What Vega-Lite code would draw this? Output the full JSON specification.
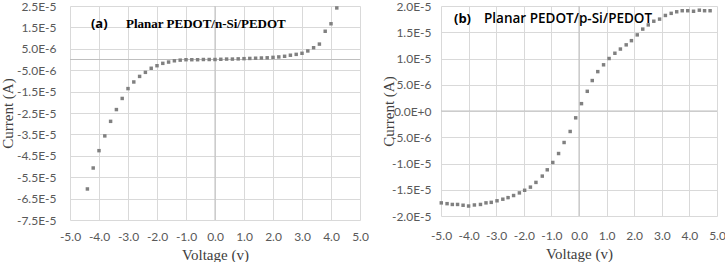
{
  "$schema": "https://vega.github.io/schema/vega-lite/v6.json",
  "padding": {"left": 0, "top": 0, "right": 0, "bottom": 0},
  "background": "white",
  "config": {
    "view": {"stroke": null},
    "axis": {
      "grid": true, "gridColor": "#d9d9d9", "gridWidth": 1, "domain": false, "ticks": false,
      "labelFont": "Lato", "labelFontSize": 12, "labelColor": "#595959",
      "labelFlush": false, "labelOverlap": false, "labelBound": false,
      "titleFont": "Liberation Serif", "titleFontSize": 15, "titleColor": "#404040", "titleFontWeight": "normal"
    },
    "concat": {"spacing": 12}
  },
  "datasets": {
    "a": [
      {"v": -4.4, "i": -6.05e-5}, {"v": -4.2, "i": -5.07e-5}, {"v": -4.0, "i": -4.26e-5}, {"v": -3.8, "i": -3.57e-5},
      {"v": -3.6, "i": -2.89e-5}, {"v": -3.4, "i": -2.34e-5}, {"v": -3.2, "i": -1.82e-5}, {"v": -3.0, "i": -1.36e-5},
      {"v": -2.8, "i": -1.05e-5}, {"v": -2.6, "i": -7.9e-6}, {"v": -2.4, "i": -6.0e-6}, {"v": -2.2, "i": -4.1e-6},
      {"v": -2.0, "i": -2.9e-6}, {"v": -1.8, "i": -1.8e-6}, {"v": -1.6, "i": -1.2e-6}, {"v": -1.4, "i": -6e-7},
      {"v": -1.2, "i": -3e-7}, {"v": -1.0, "i": -1e-7}, {"v": -0.8, "i": -1e-7}, {"v": -0.6, "i": -1e-7},
      {"v": -0.4, "i": 0}, {"v": -0.2, "i": 0}, {"v": 0.0, "i": 0}, {"v": 0.2, "i": 1e-7},
      {"v": 0.4, "i": 2e-7}, {"v": 0.6, "i": 2e-7}, {"v": 0.8, "i": 3e-7}, {"v": 1.0, "i": 4e-7},
      {"v": 1.2, "i": 5e-7}, {"v": 1.4, "i": 6e-7}, {"v": 1.6, "i": 7e-7}, {"v": 1.8, "i": 8e-7},
      {"v": 2.0, "i": 1.0e-6}, {"v": 2.2, "i": 1.2e-6}, {"v": 2.4, "i": 1.5e-6}, {"v": 2.6, "i": 2.0e-6},
      {"v": 2.8, "i": 2.4e-6}, {"v": 3.0, "i": 2.9e-6}, {"v": 3.2, "i": 4.0e-6}, {"v": 3.4, "i": 5.5e-6},
      {"v": 3.6, "i": 7.2e-6}, {"v": 3.8, "i": 1.32e-5}, {"v": 4.0, "i": 1.67e-5}, {"v": 4.2, "i": 2.41e-5}
    ],
    "b": [
      {"v": -4.99, "i": -1.75e-5}, {"v": -4.78, "i": -1.765e-5}, {"v": -4.59, "i": -1.78e-5}, {"v": -4.40, "i": -1.78e-5},
      {"v": -4.20, "i": -1.795e-5}, {"v": -4.00, "i": -1.81e-5}, {"v": -3.79, "i": -1.79e-5}, {"v": -3.57, "i": -1.78e-5},
      {"v": -3.37, "i": -1.75e-5}, {"v": -3.18, "i": -1.74e-5}, {"v": -2.97, "i": -1.71e-5}, {"v": -2.76, "i": -1.68e-5},
      {"v": -2.57, "i": -1.65e-5}, {"v": -2.37, "i": -1.61e-5}, {"v": -2.16, "i": -1.56e-5}, {"v": -1.97, "i": -1.51e-5},
      {"v": -1.76, "i": -1.45e-5}, {"v": -1.56, "i": -1.36e-5}, {"v": -1.33, "i": -1.24e-5}, {"v": -1.15, "i": -1.12e-5},
      {"v": -0.95, "i": -9.8e-6}, {"v": -0.74, "i": -8.1e-6}, {"v": -0.54, "i": -6.0e-6}, {"v": -0.32, "i": -3.9e-6},
      {"v": -0.12, "i": -1.3e-6}, {"v": 0.09, "i": 1.4e-6}, {"v": 0.30, "i": 3.75e-6}, {"v": 0.48, "i": 5.8e-6},
      {"v": 0.68, "i": 7.5e-6}, {"v": 0.89, "i": 8.8e-6}, {"v": 1.09, "i": 1.0e-5}, {"v": 1.30, "i": 1.1e-5},
      {"v": 1.50, "i": 1.18e-5}, {"v": 1.71, "i": 1.26e-5}, {"v": 1.90, "i": 1.34e-5}, {"v": 2.11, "i": 1.45e-5},
      {"v": 2.31, "i": 1.56e-5}, {"v": 2.51, "i": 1.64e-5}, {"v": 2.71, "i": 1.71e-5}, {"v": 2.92, "i": 1.75e-5},
      {"v": 3.13, "i": 1.82e-5}, {"v": 3.34, "i": 1.86e-5}, {"v": 3.54, "i": 1.89e-5}, {"v": 3.74, "i": 1.91e-5},
      {"v": 3.94, "i": 1.91e-5}, {"v": 4.15, "i": 1.90e-5}, {"v": 4.36, "i": 1.92e-5}, {"v": 4.55, "i": 1.91e-5},
      {"v": 4.75, "i": 1.91e-5}
    ],
    "labelsA": [
      {"v": -4.28, "i": 1.66e-5, "t": "(a)", "kind": "tag"},
      {"v": -3.07, "i": 1.66e-5, "t": "Planar PEDOT/n-Si/PEDOT", "kind": "name"}
    ],
    "labelsB": [
      {"v": -4.53, "i": 1.75e-5, "t": "(b)", "kind": "tag"},
      {"v": -3.44, "i": 1.75e-5, "t": "Planar PEDOT/p-Si/PEDOT", "kind": "name"}
    ]
  },
  "hconcat": [
    {
      "width": 290,
      "height": 214,
      "layer": [
        {
          "data": {"values": [{}]},
          "mark": {"type": "rule", "color": "#bfbfbf", "strokeWidth": 1},
          "encoding": {"y": {"datum": 0, "type": "quantitative"}}
        },
        {
          "data": {"values": [{}]},
          "mark": {"type": "rule", "color": "#bfbfbf", "strokeWidth": 1},
          "encoding": {"x": {"datum": 0, "type": "quantitative"}}
        },
        {
          "data": {"name": "a"},
          "mark": {"type": "point", "shape": "square", "filled": true, "size": 12, "color": "#808080", "opacity": 1},
          "encoding": {
            "x": {
              "field": "v", "type": "quantitative",
              "scale": {"domain": [-5, 5], "nice": false, "zero": false},
              "axis": {
                "title": "Voltage (v)", "values": [-5, -4, -3, -2, -1, 0, 1, 2, 3, 4, 5], "tickCount": 30,
                "labelExpr": "replace(format(datum.value, '.1f'), '\u2212', '-')",
                "labelOverlap": false, "labelFlush": false, "grid": true,
                "labelPadding": 11, "titlePadding": 5
              }
            },
            "y": {
              "field": "i", "type": "quantitative",
              "scale": {"domain": [-7.5e-5, 2.5e-5], "nice": false, "zero": false},
              "axis": {
                "title": "Current (A)", "tickCount": 30,
                "values": [-7.5e-5, -6.5e-5, -5.5e-5, -4.5e-5, -3.5e-5, -2.5e-5, -1.5e-5, -5e-6, 5e-6, 1.5e-5, 2.5e-5],
                "labelExpr": "replace(replace(replace(format(datum.value, '.1e'), '\u2212', '-'), '\u2212', '-'), 'e', 'E')",
                "labelOverlap": false, "labelFlush": false, "grid": true,
                "labelPadding": 14, "minExtent": 55, "maxExtent": 55, "titlePadding": 0
              }
            }
          }
        },
        {
          "data": {"name": "labelsA"},
          "transform": [{"filter": "datum.kind == 'tag'"}],
          "mark": {"type": "text", "align": "left", "baseline": "middle", "font": "Open Sans", "fontWeight": "bold", "fontSize": 13, "color": "#000000"},
          "encoding": {"x": {"field": "v", "type": "quantitative"}, "y": {"field": "i", "type": "quantitative"}, "text": {"field": "t"}}
        },
        {
          "data": {"name": "labelsA"},
          "transform": [{"filter": "datum.kind == 'name'"}],
          "mark": {"type": "text", "align": "left", "baseline": "middle", "font": "Liberation Serif", "fontWeight": "bold", "fontSize": 13, "color": "#000000"},
          "encoding": {"x": {"field": "v", "type": "quantitative"}, "y": {"field": "i", "type": "quantitative"}, "text": {"field": "t"}}
        }
      ]
    },
    {
      "width": 276,
      "height": 210,
      "layer": [
        {
          "data": {"values": [{}]},
          "mark": {"type": "rule", "color": "#bfbfbf", "strokeWidth": 1},
          "encoding": {"y": {"datum": 0, "type": "quantitative"}}
        },
        {
          "data": {"values": [{}]},
          "mark": {"type": "rule", "color": "#bfbfbf", "strokeWidth": 1},
          "encoding": {"x": {"datum": 0, "type": "quantitative"}}
        },
        {
          "data": {"name": "b"},
          "mark": {"type": "point", "shape": "square", "filled": true, "size": 12, "color": "#808080", "opacity": 1},
          "encoding": {
            "x": {
              "field": "v", "type": "quantitative",
              "scale": {"domain": [-5, 5], "nice": false, "zero": false},
              "axis": {
                "title": "Voltage (v)", "values": [-5, -4, -3, -2, -1, 0, 1, 2, 3, 4, 5], "tickCount": 30,
                "labelExpr": "replace(format(datum.value, '.1f'), '\u2212', '-')",
                "labelOverlap": false, "labelFlush": false, "grid": true,
                "labelPadding": 14, "titlePadding": 5
              }
            },
            "y": {
              "field": "i", "type": "quantitative",
              "scale": {"domain": [-2e-5, 2e-5], "nice": false, "zero": false},
              "axis": {
                "title": "Current (A)", "tickCount": 30,
                "values": [-2e-5, -1.5e-5, -1e-5, -5e-6, 0, 5e-6, 1e-5, 1.5e-5, 2e-5],
                "labelExpr": "replace(replace(replace(format(datum.value, '.1e'), '\u2212', '-'), '\u2212', '-'), 'e', 'E')",
                "labelOverlap": false, "labelFlush": false, "grid": true,
                "labelPadding": 10, "minExtent": 45, "maxExtent": 45, "titlePadding": 0
              }
            }
          }
        },
        {
          "data": {"name": "labelsB"},
          "transform": [{"filter": "datum.kind == 'tag'"}],
          "mark": {"type": "text", "align": "left", "baseline": "middle", "font": "Open Sans", "fontWeight": "bold", "fontSize": 13, "color": "#000000"},
          "encoding": {"x": {"field": "v", "type": "quantitative"}, "y": {"field": "i", "type": "quantitative"}, "text": {"field": "t"}}
        },
        {
          "data": {"name": "labelsB"},
          "transform": [{"filter": "datum.kind == 'name'"}],
          "mark": {"type": "text", "align": "left", "baseline": "middle", "font": "Open Sans", "fontWeight": 600, "fontSize": 13.5, "color": "#000000"},
          "encoding": {"x": {"field": "v", "type": "quantitative"}, "y": {"field": "i", "type": "quantitative"}, "text": {"field": "t"}}
        }
      ]
    }
  ]
}
